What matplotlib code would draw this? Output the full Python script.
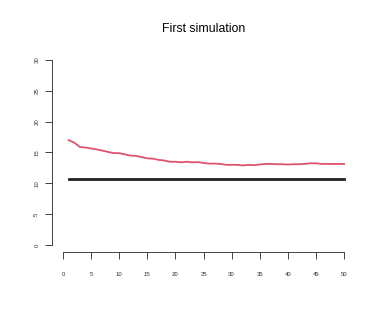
import matplotlib
matplotlib.use("Agg")
import matplotlib.pyplot as plt

plt.rcParams['font.family'] = ['Liberation Sans', 'DejaVu Sans']

# simulation step
steps = list(range(1, 51))
# simulated estimate (red)
estimate = [17.0, 16.6, 15.9, 15.8, 15.65, 15.5, 15.3, 15.1, 14.9, 14.9,
            14.7, 14.5, 14.45, 14.25, 14.05, 14.0, 13.8, 13.7, 13.5, 13.5,
            13.4, 13.5, 13.4, 13.45, 13.3, 13.2, 13.2, 13.15, 13.0, 13.0,
            13.0, 12.9, 13.0, 12.95, 13.05, 13.15, 13.15, 13.1, 13.1, 13.05,
            13.1, 13.1, 13.15, 13.25, 13.25, 13.15, 13.15, 13.15, 13.15, 13.15]
true_value = 10.7

xticks = [0, 5, 10, 15, 20, 25, 30, 35, 40, 45, 50]
yticks = [0, 5, 10, 15, 20, 25, 30]

fig = plt.figure(figsize=(3.82, 3.18), dpi=100)
ax = fig.add_axes([0.1356, 0.2063, 0.7944, 0.6283])

ax.plot(steps, estimate, color='#DF536B', lw=1.3)
ax.plot([steps[0], steps[-1]], [true_value, true_value], color='#222222', lw=2.0)

ax.set_xlim(-2, 52)
ax.set_ylim(-1.2, 31.2)
for s in ['top', 'right']:
    ax.spines[s].set_visible(False)
ax.spines['left'].set_bounds(0, 30)
ax.spines['bottom'].set_bounds(0, 50)
for s in ['left', 'bottom']:
    ax.spines[s].set_linewidth(0.7)
    ax.spines[s].set_color('#444444')

ax.set_xticks(xticks)
ax.set_yticks(yticks)
ax.set_yticklabels([str(v) for v in yticks], rotation=90, va='center')
ax.tick_params(axis='both', length=5, width=0.7, color='#444444',
               labelsize=4.3, labelcolor='#333333')
ax.tick_params(axis='x', pad=9)
ax.tick_params(axis='y', pad=4)

ax.set_title('First simulation', fontsize=8.8, pad=15)

fig.savefig('out.png', dpi=100)
